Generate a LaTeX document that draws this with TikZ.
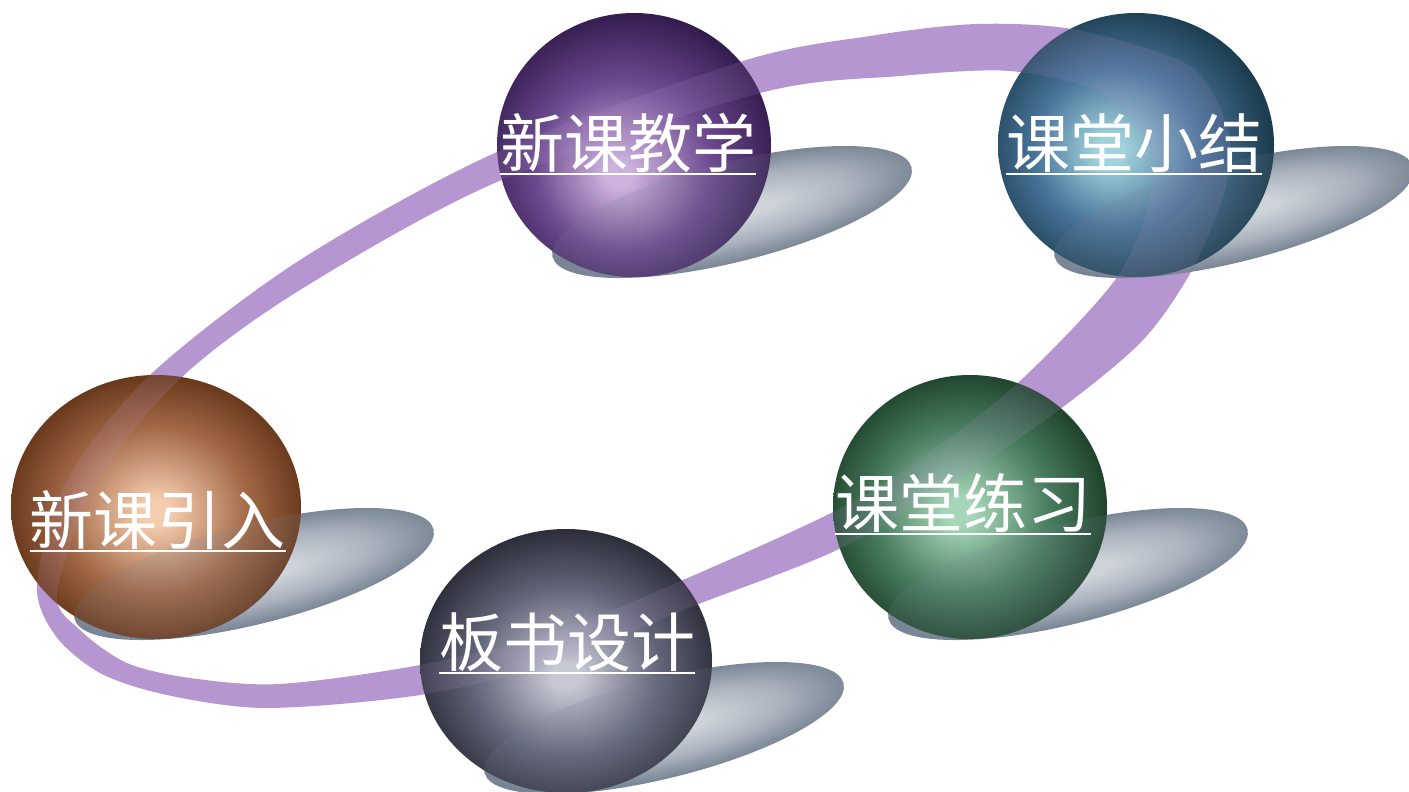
\documentclass[tikz,border=0pt]{standalone}
\usepackage{fontspec}
\newfontfamily\cjkfont{Noto Sans CJK SC}
\usetikzlibrary{shapes.geometric}

% ring and shadow colours
\definecolor{ringc}{RGB}{181,150,208}
\definecolor{shA}{RGB}{206,211,218}
\definecolor{shM}{RGB}{170,178,189}
\definecolor{shB}{RGB}{120,133,148}
% ball colours: highlight / body / rim
\definecolor{pA}{RGB}{205,178,222}\definecolor{pB}{RGB}{108,74,143}\definecolor{pC}{RGB}{46,23,72}
\definecolor{tA}{RGB}{162,210,220}\definecolor{tB}{RGB}{72,116,154}\definecolor{tC}{RGB}{20,50,66}
\definecolor{bA}{RGB}{244,204,174}\definecolor{bB}{RGB}{162,104,70}\definecolor{bC}{RGB}{90,44,16}
\definecolor{gA}{RGB}{198,200,212}\definecolor{gB}{RGB}{98,100,120}\definecolor{gC}{RGB}{36,37,48}
\definecolor{eA}{RGB}{166,214,184}\definecolor{eB}{RGB}{72,124,94}\definecolor{eC}{RGB}{23,56,34}

% radial gradients: 50bp is the rim of the shape they fill
\pgfdeclareradialshading{shadowgrad}{\pgfpoint{4bp}{0bp}}{color(0bp)=(shA); color(8bp)=(shA); color(30bp)=(shM); color(50bp)=(shB); color(100bp)=(shB)}
\pgfdeclareradialshading{purpleball}{\pgfpoint{-6bp}{-12bp}}{color(0bp)=(pA); color(5bp)=(pA); color(32bp)=(pB); color(58bp)=(pC); color(100bp)=(pC)}
\pgfdeclareradialshading{tealball}{\pgfpoint{-10bp}{-2bp}}{color(0bp)=(tA); color(5bp)=(tA); color(30bp)=(tB); color(58bp)=(tC); color(100bp)=(tC)}
\pgfdeclareradialshading{brownball}{\pgfpoint{0bp}{-2bp}}{color(0bp)=(bA); color(5bp)=(bA); color(32bp)=(bB); color(56bp)=(bC); color(100bp)=(bC)}
\pgfdeclareradialshading{grayball}{\pgfpoint{0bp}{-6bp}}{color(0bp)=(gA); color(5bp)=(gA); color(32bp)=(gB); color(56bp)=(gC); color(100bp)=(gC)}
\pgfdeclareradialshading{greenball}{\pgfpoint{-4bp}{-2bp}}{color(0bp)=(eA); color(5bp)=(eA); color(32bp)=(eB); color(56bp)=(eC); color(100bp)=(eC)}

% the tilted ring: outer and inner rims filled with the even-odd rule
\newcommand\drawring[1]{%
  \fill[#1, even odd rule]
    plot[smooth cycle] coordinates {(37,583) (55,635) (100,673) (167,695) (267,708)
      (420,695) (555,663) (683,610) (837,550) (960,478) (1063,407) (1143,340) (1192,270)
      (1225,190) (1228,130) (1190,66) (1077,30) (977,24) (870,36) (743,61) (497,152) (300,260)
      (150,375) (67,480)}
    plot[smooth cycle] coordinates {(57,592) (80,630) (127,663) (190,678) (280,684)
      (420,665) (555,632) (683,580) (837,510) (930,452) (1020,381) (1115,280)
      (1150,200) (1147,143) (1100,92) (1010,71) (900,76) (760,93) (497,182)
      (300,290) (182,377) (98,480)};}

% ground shadow of the ball centred at (#1,#2)
\newcommand\groundshadow[2]{%
  \begin{scope}[shift={(#1+98,#2+67)}, rotate=14]
    \clip (0,0) ellipse [x radius=185, y radius=50];
    \begin{scope}[xscale=185/50.19, yscale=50/50.19]
      \pgflowlevelsynccm
      \pgfuseshading{shadowgrad}
    \end{scope}
  \end{scope}}

% ball at (#1,#2), radii #3 and #4, gradient #5; ring and shadow show faintly through it
\newcommand\ball[5]{%
  \begin{scope}
    \clip (#1,#2) ellipse [x radius=#3, y radius=#4];
    \begin{scope}[shift={(#1,#2)}, xscale=#3/50.19, yscale=#4/50.19]
      \pgflowlevelsynccm
      \pgfuseshading{#5}
    \end{scope}
    \drawring{ringc, opacity=0.15}
    \fill[shB, opacity=0.16, shift={(#1+98,#2+67)}, rotate=14] (0,0) ellipse [x radius=185, y radius=50];
  \end{scope}}

\tikzset{
  lbl/.style={text=white, font=\cjkfont\fontsize{64}{64}\selectfont, inner sep=0pt, anchor=base},
  uline/.style={draw=white, line width=2.6pt}
}

\begin{document}
\begin{tikzpicture}[x=1pt, y=-1pt]
  \useasboundingbox (0,0) rectangle (1409,792);
  \fill[white] (0,0) rectangle (1409,792);

  % ring
  \drawring{ringc}

  % shadows on the ground
  \groundshadow{634}{145}
  \groundshadow{1136}{145}
  \groundshadow{156}{507}
  \groundshadow{566}{661}
  \groundshadow{970}{507}

  % balls
  \ball{634}{145}{137}{132}{purpleball}
  \ball{1136}{145}{138}{132}{tealball}
  \ball{156}{507}{145}{132}{brownball}
  \ball{566}{661}{146}{132}{grayball}
  \ball{970}{507}{137}{132}{greenball}

  % labels
  \node[lbl] (tP) at (628,167) {新课教学};
  \node[lbl] (tT) at (1134,167) {课堂小结};
  \node[lbl] (tB) at (158,544) {新课引入};
  \node[lbl] (tG) at (567,666) {板书设计};
  \node[lbl] (tE) at (963,527) {课堂练习};

  \foreach \t in {tP,tT,tB,tG,tE}
    \draw[uline] ([yshift=-7pt]\t.base west) -- ([yshift=-7pt]\t.base east);
\end{tikzpicture}
\end{document}
